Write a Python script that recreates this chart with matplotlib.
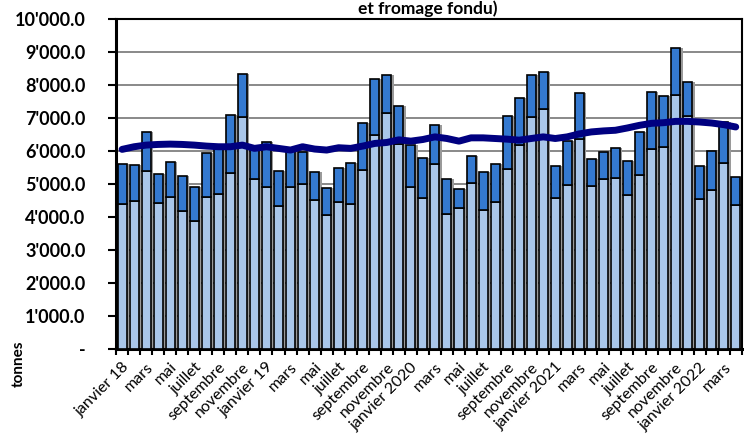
import matplotlib
matplotlib.use('Agg')
import matplotlib.pyplot as plt
from matplotlib.ticker import FuncFormatter
import numpy as np

plt.rcParams['font.family'] = ['Lato', 'DejaVu Sans']

# mois de janvier 2018 à avril 2022
mois = ['janvier 18', 'février', 'mars', 'avril', 'mai', 'juin', 'juillet', 'août',
        'septembre', 'octobre', 'novembre', 'décembre',
        'janvier 19', 'février', 'mars', 'avril', 'mai', 'juin', 'juillet', 'août',
        'septembre', 'octobre', 'novembre', 'décembre',
        'janvier 2020', 'février', 'mars', 'avril', 'mai', 'juin', 'juillet', 'août',
        'septembre', 'octobre', 'novembre', 'décembre',
        'janvier 2021', 'février', 'mars', 'avril', 'mai', 'juin', 'juillet', 'août',
        'septembre', 'octobre', 'novembre', 'décembre',
        'janvier 2022', 'février', 'mars', 'avril']

# partie inférieure (bleu clair)
bas = [4380, 4480, 5380, 4430, 4620, 4180, 3880, 4610, 4700, 5320, 7020, 5160,
       4920, 4330, 4900, 5010, 4500, 4070, 4450, 4380, 5410, 6490, 7160, 6200,
       4920, 4580, 5620, 4080, 4280, 5040, 4200, 4440, 5440, 6170, 7030, 7260,
       4580, 4970, 6360, 4950, 5150, 5190, 4670, 5260, 6050, 6130, 7700, 7070,
       4550, 4830, 5650, 4360]

# total (haut des barres)
total = [5620, 5580, 6590, 5310, 5680, 5230, 4920, 5930, 6080, 7090, 8330, 6030,
         6280, 5400, 6030, 5960, 5350, 4870, 5480, 5640, 6860, 8200, 8310, 7360,
         6180, 5780, 6780, 5160, 4850, 5860, 5370, 5610, 7070, 7600, 8310, 8410,
         5550, 6290, 7750, 5760, 5960, 6100, 5700, 6580, 7790, 7680, 9140, 8090,
         5540, 6000, 6890, 5210]

# moyenne mobile
moyenne = [6050, 6130, 6180, 6200, 6210, 6200, 6180, 6150, 6130, 6130, 6180, 6080,
           6130, 6080, 6030, 6130, 6060, 6030, 6100, 6080, 6150, 6230, 6260, 6340,
           6300, 6350, 6430, 6380, 6300, 6400, 6400, 6380, 6360, 6330, 6380, 6430,
           6380, 6430, 6520, 6580, 6610, 6630, 6700, 6780, 6840, 6860, 6900, 6900,
           6880, 6850, 6800, 6730]

haut = [t - b for t, b in zip(total, bas)]
x = np.arange(len(mois))

fig = plt.figure(figsize=(7.44, 4.36), dpi=100)
ax = fig.add_axes([0.156, 0.2, 0.841, 0.756])

# ombre derrière les barres
ax.bar(x + 0.2, total, width=0.75, color='#9a9a9a', zorder=2)
ax.bar(x, bas, width=0.75, color='#a9c6e9', edgecolor='black', linewidth=1.2, zorder=3)
ax.bar(x, haut, bottom=bas, width=0.75, color='#3479d0', edgecolor='black', linewidth=1.2, zorder=3)
ax.plot(x, moyenne, color='#000080', linewidth=5, solid_capstyle='round', zorder=4)

ax.set_xlim(-0.5, len(mois) - 0.5)
ax.set_ylim(0, 10000)
ax.set_yticks(range(0, 10001, 1000))
ax.yaxis.set_major_formatter(FuncFormatter(
    lambda v, p: '-' if v == 0 else '{:,.1f}'.format(v).replace(',', "'")))
ax.grid(axis='y', color='#808080', linewidth=1.3, zorder=1)

# graduations entre les catégories, libellés un mois sur deux
ax.set_xticks(np.arange(-0.5, len(mois), 1))
ax.set_xticklabels([])
ax.set_xticks(x[::2], minor=True)
ax.set_xticklabels([mois[i] for i in x[::2]], minor=True, rotation=45,
                   ha='right', rotation_mode='anchor', fontsize=11.5)
ax.tick_params(axis='x', which='minor', length=0, pad=8)
ax.tick_params(axis='x', which='major', length=4, width=1.5, direction='out')
ax.tick_params(axis='y', length=6, width=1.5, labelsize=13, pad=16)
for lab in ax.get_yticklabels():
    lab.set_fontweight('bold')

for s in ax.spines.values():
    s.set_linewidth(1.5)
ax.spines['left'].set_linewidth(2.2)
ax.spines['bottom'].set_linewidth(2.2)

ax.set_ylabel('tonnes', fontsize=11, fontweight='bold', loc='bottom')
ax.yaxis.set_label_coords(-0.145, -0.115)

fig.text(0.575, 0.999, 'et fromage fondu)', ha='center', va='top',
         fontsize=12.5, fontweight='bold')

fig.savefig('out.png', dpi=100)
